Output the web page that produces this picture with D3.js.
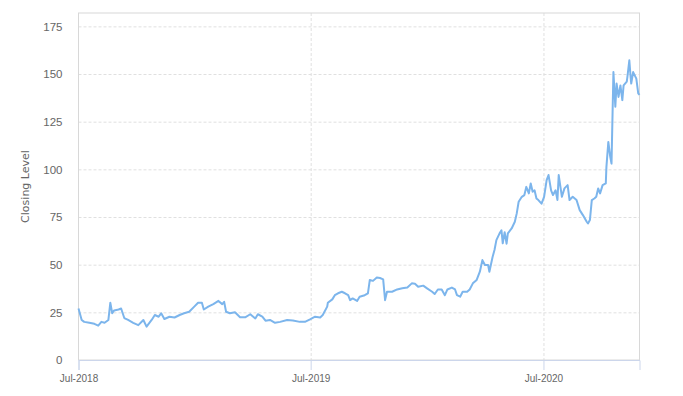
<!DOCTYPE html>
<html>
<head>
<meta charset="utf-8">
<style>
  body { margin: 0; background: #fff; }
  svg { font-family: "DejaVu Sans", Verdana, sans-serif; }
  .grid line { stroke: #e0e0e0; stroke-dasharray: 3,2; }
  .grid path { display: none; }
</style>
<script src="https://cdn.jsdelivr.net/npm/d3@7"></script>
</head>
<body>
<div id="chart"></div>
<script>
// closing levels
var dates = [
  "2018-07-01","2018-07-06","2018-07-10","2018-07-18","2018-07-26","2018-08-01","2018-08-06","2018-08-11",
  "2018-08-17","2018-08-20","2018-08-23","2018-08-26","2018-09-02","2018-09-06","2018-09-11","2018-09-17",
  "2018-09-25","2018-10-03","2018-10-11","2018-10-16","2018-10-24","2018-10-29","2018-11-04","2018-11-08",
  "2018-11-13","2018-11-21","2018-11-29","2018-12-07","2018-12-14","2018-12-22","2018-12-30","2019-01-05",
  "2019-01-11","2019-01-14","2019-01-21","2019-01-29","2019-02-06","2019-02-12","2019-02-15","2019-02-18",
  "2019-02-24","2019-03-04","2019-03-12","2019-03-20","2019-03-28","2019-04-05","2019-04-09","2019-04-16",
  "2019-04-21","2019-04-28","2019-05-06","2019-05-14","2019-05-25","2019-06-03","2019-06-14","2019-06-22",
  "2019-06-30","2019-07-08","2019-07-16","2019-07-20","2019-07-27","2019-07-28","2019-08-04","2019-08-08",
  "2019-08-13","2019-08-19","2019-08-24","2019-08-29","2019-09-01","2019-09-05","2019-09-12","2019-09-16",
  "2019-09-24","2019-09-29","2019-10-02","2019-10-07","2019-10-13","2019-10-18","2019-10-23","2019-10-26",
  "2019-10-29","2019-11-06","2019-11-14","2019-11-22","2019-11-30","2019-12-07","2019-12-12","2019-12-17",
  "2019-12-25","2019-12-31","2020-01-08","2020-01-12","2020-01-17","2020-01-23","2020-01-28","2020-02-01",
  "2020-02-08","2020-02-13","2020-02-16","2020-02-21","2020-02-25","2020-03-03","2020-03-07","2020-03-12",
  "2020-03-18","2020-03-23","2020-03-27","2020-03-31","2020-04-05","2020-04-07","2020-04-12","2020-04-15",
  "2020-04-18","2020-04-23","2020-04-26","2020-04-28","2020-05-01","2020-05-04","2020-05-06","2020-05-12",
  "2020-05-17","2020-05-20","2020-05-23","2020-05-28","2020-06-01","2020-06-04","2020-06-08","2020-06-11",
  "2020-06-14","2020-06-17","2020-06-20","2020-06-23","2020-06-28","2020-07-02","2020-07-06","2020-07-09",
  "2020-07-13","2020-07-16","2020-07-20","2020-07-23","2020-07-25","2020-07-30","2020-08-03","2020-08-08",
  "2020-08-11","2020-08-16","2020-08-22","2020-08-27","2020-09-01","2020-09-07","2020-09-09","2020-09-12",
  "2020-09-15","2020-09-19","2020-09-22","2020-09-25","2020-09-28","2020-10-02","2020-10-07","2020-10-08",
  "2020-10-11","2020-10-14","2020-10-16","2020-10-19","2020-10-22","2020-10-24","2020-10-27","2020-10-30",
  "2020-11-02","2020-11-04","2020-11-09","2020-11-10","2020-11-13","2020-11-15","2020-11-16","2020-11-19",
  "2020-11-24","2020-11-27","2020-11-29"
];
var closing = [
  27, 21, 20, 19.5, 19, 18, 20, 19.5,
  21, 30, 24.5, 26, 26.5, 27, 22, 21,
  19.5, 18.3, 21, 17.5, 21, 23.6, 22.7, 24.5,
  21.5, 22.7, 22.3, 23.6, 24.5, 25.3, 28, 30,
  30, 26.5, 28, 29.3, 31, 29.3, 30.5, 25.3,
  24.5, 25, 22.4, 22.4, 24, 21.8, 24, 22.8,
  20.6, 21, 19.5, 20, 21, 20.7, 20, 20,
  21.3, 22.7, 22.3, 23.6, 28, 30, 31.8, 34,
  35, 35.8, 35, 34, 31.4, 32.3, 31, 33.2,
  34, 35, 42, 41.5, 43.3, 43, 42.3, 31.4,
  35.8, 35.8, 37, 37.6, 38, 40.2, 40, 38.4,
  39, 37.6, 35.8, 34.6, 37, 37, 34, 37,
  38, 37, 34, 33.2, 35.8, 35.8, 37, 40.2,
  42, 46.3, 52.4, 49.8, 49.8, 46.3, 54, 57.7,
  62.9, 66.4, 68, 61.2, 67, 61, 66.4, 69,
  72.5, 76.9, 83, 85.6, 86.5, 90.8, 87.4, 92.6,
  88.2, 89, 84.7, 83.9, 82, 85.6, 94.3, 97,
  89, 86.5, 89, 83.9, 97, 85.6, 90, 91.7,
  83.9, 85.6, 83.9, 78.6, 76, 72.5, 71.6, 73.4,
  83.9, 84.7, 85.6, 90, 87.4, 91.7, 92.6, 101.3,
  114.4, 106.6, 103, 151, 132.8, 145, 138, 144,
  136.3, 144, 146, 148.5, 157.2, 148.5, 145, 151,
  147.6, 139.8, 139
];
var yTicks = [0, 25, 50, 75, 100, 125, 150, 175];
var xTicks = ["2018-07-01", "2019-07-01", "2020-07-01"];
var yTitle = "Closing Level";

var width = 683, height = 396;
var margin = {top: 13, right: 43.5, bottom: 36, left: 78.5};

var parse = d3.timeParse("%Y-%m-%d");
var data = dates.map(function(d, i) { return {date: parse(d), value: closing[i]}; });

var svg = d3.select("#chart").append("svg")
    .attr("width", width)
    .attr("height", height);

var x = d3.scaleTime()
    .domain(d3.extent(data, function(d) { return d.date; }))
    .range([margin.left, width - margin.right]);

var y = d3.scaleLinear()
    .domain([0, 182])
    .range([height - margin.bottom, margin.top]);

// 横グリッド
svg.append("g")
    .attr("class", "grid")
    .attr("transform", "translate(" + margin.left + ",0)")
    .call(d3.axisLeft(y).tickValues(yTicks.slice(1)).tickSize(-(width - margin.left - margin.right)).tickFormat(""));

// 縦グリッド
svg.append("g")
    .attr("class", "grid")
    .attr("transform", "translate(0," + margin.top + ")")
    .call(d3.axisBottom(x).tickValues(xTicks.slice(1).map(parse)).tickSize(height - margin.top - margin.bottom).tickFormat(""));

// 枠
svg.append("rect")
    .attr("x", margin.left)
    .attr("y", margin.top)
    .attr("width", width - margin.left - margin.right)
    .attr("height", height - margin.top - margin.bottom)
    .attr("fill", "none")
    .attr("stroke", "#d8d8d8")
    .attr("stroke-width", 1);

// y 軸ラベル
var yAxis = svg.append("g")
    .attr("transform", "translate(" + margin.left + ",0)")
    .call(d3.axisLeft(y).tickValues(yTicks).tickSize(0).tickPadding(16));
yAxis.select(".domain").remove();
yAxis.selectAll("text")
    .attr("fill", "#666")
    .style("font-size", "11.5px");

// x 軸
var xAxis = svg.append("g")
    .attr("transform", "translate(0," + (height - margin.bottom) + ")")
    .call(d3.axisBottom(x).tickValues(xTicks.map(parse)).tickSize(10).tickPadding(5)
      .tickFormat(d3.timeFormat("%b-%Y")));
xAxis.select(".domain").attr("stroke", "#ccd6eb");
xAxis.selectAll("line").attr("stroke", "#ccd6eb");
xAxis.selectAll("text")
    .attr("fill", "#666")
    .style("font-size", "10px");

svg.append("text")
    .attr("transform", "translate(29," + ((margin.top + height - margin.bottom) / 2) + ") rotate(-90)")
    .attr("text-anchor", "middle")
    .attr("fill", "#666")
    .style("font-size", "11px")
    .text(yTitle);

var line = d3.line()
    .x(function(d) { return x(d.date); })
    .y(function(d) { return y(d.value); });

svg.append("path")
    .datum(data)
    .attr("d", line)
    .attr("fill", "none")
    .attr("stroke", "#7cb5ec")
    .attr("stroke-width", 2)
    .attr("stroke-linejoin", "round");
</script>
</body>
</html>
